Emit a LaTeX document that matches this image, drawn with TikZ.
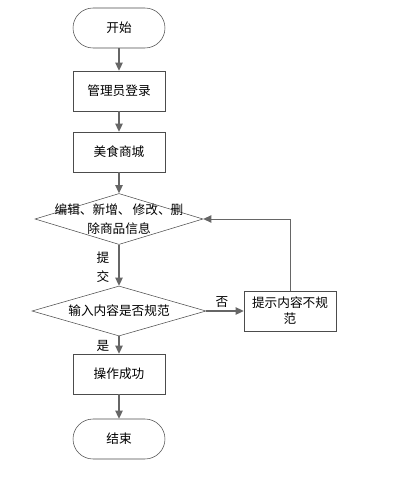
\documentclass[tikz,border=0pt]{standalone}
\usepackage{fontspec}
\setmainfont{Noto Sans CJK SC}
\usepackage{tikz}
\usetikzlibrary{shapes,calc,arrows.meta}

\begin{document}
\begin{tikzpicture}[x=0.75pt,y=-0.75pt,
    font=\fontsize{9.5pt}{12pt}\selectfont,
    every node/.style={text=black},
    terminal/.style={draw=black!70,fill=white,rectangle,rounded corners=15pt,
        minimum width=69pt,minimum height=30pt,inner sep=0pt},
    process/.style={draw=black!70,fill=white,rectangle,
        minimum width=69pt,minimum height=30pt,inner sep=0pt},
    decision/.style={draw=black!70,fill=white,diamond,inner sep=0pt},
    flow/.style={draw=black!60,line width=0.9pt,-{Triangle[length=6pt,width=5.5pt]}},
    back/.style={draw=black!60,line width=0.7pt,-{Triangle[length=6pt,width=5.5pt]}}]
      % Frame
      \useasboundingbox (0,0) rectangle (392,477);
      % Coordinates
      \coordinate (S) at (119,28);
      \coordinate (L) at (119,91);
      \coordinate (M) at (119,152);
      \coordinate (E) at (119,219);
      \coordinate (V) at (119,311);
      \coordinate (W) at (290,311);
      \coordinate (O) at (119,374);
      \coordinate (T) at (119,439);
      % Nodes
      \node[terminal] (start) at (S) {开始};
      \node[process] (login) at (L) {管理员登录};
      \node[process] (mall) at (M) {美食商城};
      \node[decision,minimum width=126pt,minimum height=38.25pt] (edit) at (E) {};
      \node[align=center,font=\fontsize{9.5pt}{14pt}\selectfont] (edittext) at (E)
          {编辑、新增、\,修改、删\\除商品信息};
      \node[decision,minimum width=130.5pt,minimum height=37.5pt] (check) at (V) {};
      \node (checktext) at (V) {输入内容是否规范};
      \node[process,text width=64pt,align=center] (warn) at (W) {提示内容不规\\范};
      \node[process] (ok) at (O) {操作成功};
      \node[terminal] (stop) at (T) {结束};
      % Labels
      \node[align=center,font=\fontsize{9.5pt}{14pt}\selectfont] (submit) at (103,267) {提\\交};
      \node (no) at (222,302) {否};
      \node (yes) at (103,346) {是};
      % Connectors
      \draw[flow] (start) -- (login);
      \draw[flow] (login) -- (mall);
      \draw[flow] (mall) -- (edit);
      \draw[flow] (edit) -- (check);
      \draw[flow] (check) -- (warn);
      \draw[flow] (check) -- (ok);
      \draw[flow] (ok) -- (stop);
      \draw[back] (warn.north) |- (edit.east);
\end{tikzpicture}
\end{document}
